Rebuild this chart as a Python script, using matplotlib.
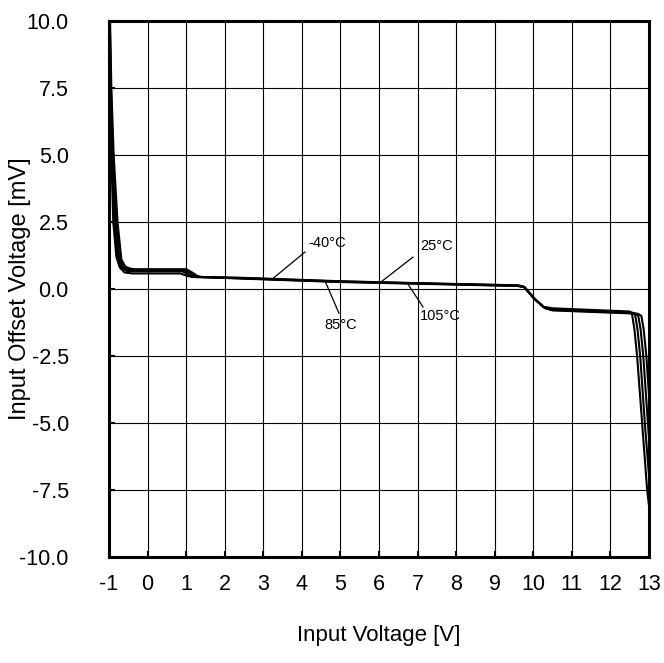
import matplotlib as mpl
import matplotlib.pyplot as plt
import numpy as np

plt.rcParams['font.family'] = ['Liberation Sans', 'DejaVu Sans']
plt.rcParams['font.size'] = 15.5
plt.rcParams['axes.unicode_minus'] = False

# Offset voltage vs input voltage, four temperatures
x_m40 = [-1.0, -0.97, -0.94, -0.89, -0.81, -0.72, -0.6, -0.4, 0.85, 1.0, 1.15, 1.3,
         2.4, 5.0, 7.5, 9.6, 9.75, 10.0, 10.25, 10.5, 12.5, 12.56, 12.62, 12.69, 12.82, 12.95, 13.0]
y_m40 = [10.5, 7.5, 5.0, 2.5, 1.2, 0.8, 0.62, 0.58, 0.58, 0.5, 0.45, 0.44,
         0.42, 0.29, 0.2, 0.14, 0.09, -0.33, -0.66, -0.72, -0.84, -0.95, -1.5, -2.5, -5.0, -7.5, -8.1]

x_25 = [-1.0, -0.96, -0.92, -0.86, -0.77, -0.68, -0.55, -0.4, 0.9, 1.05, 1.2, 1.3,
        2.4, 5.0, 7.5, 9.6, 9.76, 10.02, 10.27, 10.5, 12.55, 12.64, 12.70, 12.77, 12.89, 13.0]
y_25 = [11.0, 7.5, 5.0, 2.5, 1.15, 0.8, 0.68, 0.66, 0.66, 0.55, 0.47, 0.45,
        0.41, 0.28, 0.2, 0.13, 0.08, -0.36, -0.68, -0.75, -0.87, -0.97, -1.5, -2.5, -5.0, -7.0]

x_85 = [-1.0, -0.95, -0.90, -0.82, -0.73, -0.64, -0.5, -0.4, 0.95, 1.1, 1.25, 1.35,
        2.4, 5.0, 7.5, 9.6, 9.77, 10.04, 10.29, 10.5, 12.62, 12.72, 12.78, 12.85, 12.97, 13.0]
y_85 = [11.5, 7.5, 5.0, 2.5, 1.15, 0.82, 0.72, 0.7, 0.7, 0.6, 0.48, 0.45,
        0.4, 0.27, 0.19, 0.12, 0.07, -0.38, -0.7, -0.78, -0.9, -1.0, -1.5, -2.5, -5.0, -5.6]

x_105 = [-1.0, -0.94, -0.88, -0.78, -0.68, -0.58, -0.45, -0.35, 1.0, 1.15, 1.3, 1.4,
         2.4, 5.0, 7.5, 9.6, 9.78, 10.06, 10.31, 10.5, 12.7, 12.8, 12.86, 12.93, 13.0]
y_105 = [12.0, 7.5, 5.0, 2.5, 1.1, 0.84, 0.76, 0.74, 0.74, 0.62, 0.48, 0.45,
         0.39, 0.26, 0.18, 0.11, 0.06, -0.4, -0.72, -0.8, -0.92, -1.0, -1.5, -2.5, -4.0]

x_ticks = list(range(-1, 14))
y_ticks = [-10.0, -7.5, -5.0, -2.5, 0.0, 2.5, 5.0, 7.5, 10.0]
y_ticklabels = ['%.1f' % v for v in y_ticks]

# label text, label centre, leader line start (on the curve) and end
labels = ['-40°C', '25°C', '85°C', '105°C']
label_xy = [(4.65, 1.72), (7.5, 1.6), (5.0, -1.34), (7.58, -1.01)]
leader_from = [(3.23, 0.37), (6.03, 0.24), (4.60, 0.30), (6.75, 0.18)]
leader_to = [(4.08, 1.38), (6.88, 1.19), (4.96, -0.90), (7.14, -0.67)]

fig = plt.figure(figsize=(6.64, 6.63), dpi=100)
ax = fig.add_axes([0.1642, 0.1599, 0.8133, 0.8084])

for xs, ys in [(x_m40, y_m40), (x_25, y_25), (x_85, y_85), (x_105, y_105)]:
    ax.plot(xs, ys, color='black', linewidth=1.5, solid_joinstyle='round')

for txt, pos, p0, p1 in zip(labels, label_xy, leader_from, leader_to):
    ax.plot([p0[0], p1[0]], [p0[1], p1[1]], color='black', linewidth=0.9)
    ax.text(pos[0], pos[1], txt, fontsize=10.5, ha='center', va='center')

ax.set_xlim(-1, 13)
ax.set_ylim(-10, 10)
ax.set_xticks(x_ticks)
ax.set_yticks(y_ticks)
ax.set_yticklabels(y_ticklabels)
ax.grid(True, color='black', linewidth=0.8)
ax.set_axisbelow(True)

for s in ax.spines.values():
    s.set_linewidth(2.2)
ax.tick_params(direction='in', length=4, width=1.5)
ax.tick_params(axis='x', pad=12)
ax.tick_params(axis='y', pad=29)

ax.set_xlabel('Input Voltage [V]', fontsize=16, va='center')
ax.xaxis.set_label_coords(0.5, -0.147)
ax.set_ylabel('Input Offset Voltage [mV]', fontsize=17, va='center')
ax.yaxis.set_label_coords(-0.165, 0.5)

plt.savefig('out.png', dpi=100)
